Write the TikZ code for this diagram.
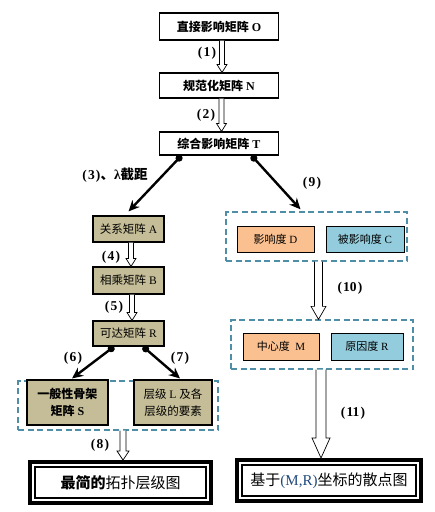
\documentclass[tikz,border=0pt]{standalone}
\usepackage{fontspec}
\setmainfont{Liberation Serif}
\newfontfamily\zh{Noto Sans CJK SC}
\usetikzlibrary{arrows.meta,positioning,calc}

\definecolor{tan}{HTML}{C4BD97}
\definecolor{peach}{HTML}{FAC090}
\definecolor{sky}{HTML}{93CDDD}
\definecolor{dashblue}{HTML}{4E8FA7}
\definecolor{mrblue}{HTML}{1F497D}

\newcommand{\stepno}[1]{(\kern1.2pt#1\kern1.2pt)}

\begin{document}
\begin{tikzpicture}[x=1pt,y=-1pt,on grid,
  box/.style={draw,line width=1.1pt,inner sep=0pt,align=center},
  mat/.style={box,font=\bfseries\fontsize{12}{14}\selectfont,minimum width=119pt,minimum height=25pt},
  tanbox/.style={box,fill=tan,font=\fontsize{11.5}{13}\selectfont,minimum width=71pt,minimum height=26pt},
  colbox/.style={box,line width=1pt,font=\fontsize{11}{13}\selectfont,minimum width=77pt,minimum height=26pt},
  grp/.style={draw=dashblue,line width=1.3pt,dash pattern=on 6pt off 3.5pt,minimum height=49pt},
  final/.style={draw,line width=4pt,inner sep=0pt,font=\fontsize{15}{18}\selectfont,
    path picture={\draw[line width=1.3pt] ([xshift=5pt,yshift=-5pt]path picture bounding box.north west)
      rectangle ([xshift=-5pt,yshift=5pt]path picture bounding box.south east);}},
  hollow/.style n args={3}{draw,fill=white,line width=0.7pt,
    to path={let \p1=(\tikztostart), \p2=(\tikztotarget) in
      (\x1-#1,\y1) -- (\x1-#1,\y2+#3) -- (\x1-#2,\y2+#3) -- (\x1,\y2)
      -- (\x1+#2,\y2+#3) -- (\x1+#1,\y2+#3) -- (\x1+#1,\y1)}},
  pull/.style={line width=2.4pt,{Circle[length=7pt]}-{Stealth[length=11pt,width=10pt]}},
  lab/.style={font=\bfseries\fontsize{13.5}{15}\selectfont}]
  \useasboundingbox (0,0) rectangle (435,512);

  % left column
  \node[mat,minimum height=27pt] (O)              at (219,26.5) {{\zh 直接影响矩阵} O};
  \node[mat]                     (N) [below=59pt of O]          {{\zh 规范化矩阵} N};
  \node[mat,minimum height=23pt] (T) [below=58pt of N]          {{\zh 综合影响矩阵} T};

  \node[tanbox]                  (A)              at (128.5,229) {{\zh 关系矩阵} A};
  \node[tanbox,minimum height=27pt] (B) [below=51.5pt of A]      {{\zh 相乘矩阵} B};
  \node[tanbox,minimum height=25pt] (R) [below=53pt of B]        {{\zh 可达矩阵} R};

  \node[grp,minimum width=200pt] (G1)             at (118,405.5) {};
  \node[tanbox,minimum width=81pt,minimum height=45pt,font=\bfseries\fontsize{12}{17}\selectfont]
                                 (S)              at (67.5,402.5) {{\zh 一般性骨架}\\{\zh 矩阵} S};
  \node[tanbox,minimum width=78pt,minimum height=45pt,font=\fontsize{11.5}{17}\selectfont]
                                 (L) [right=105.5pt of S]        {{\zh 层级} L {\zh 及各}\\{\zh 层级的要素}};

  \node[final,minimum width=181pt,minimum height=41pt]
                                 (Top)            at (120.5,482.5) {{\zh\bfseries 最简的}{\zh 拓扑层级图}};

  % right column
  \node[grp,minimum width=181pt] (G2)             at (316.5,236.5) {};
  \node[colbox,fill=peach]       (D)              at (275.5,239) {{\zh 影响度} D};
  \node[colbox,fill=sky,minimum width=78pt] (C) [right=89.5pt of D] {{\zh 被影响度} C};

  \node[grp,minimum width=182pt] (G3)             at (322,344.5) {};
  \node[colbox,fill=peach,minimum width=76pt,minimum height=27pt] (M) at (281,346.5) {{\zh 中心度}\ \ M};
  \node[colbox,fill=sky,minimum width=72pt,minimum height=27pt] (RR) [right=86pt of M] {{\zh 原因度} R};

  \node[final,minimum width=184pt,minimum height=41pt]
                                 (Scat)           at (329,480.5) {{\zh 基于}\textcolor{mrblue}{(M,R)}{\zh 坐标的散点图}};

  % connectors
  \draw[hollow={2.5pt}{5pt}{8pt}] ([xshift=3pt]O.south) to ([xshift=3pt]N.north);
  \draw[hollow={2.5pt}{5pt}{8pt}] ([xshift=2.5pt]N.south) to ([xshift=2.5pt]T.north);
  \draw[hollow={2.5pt}{5pt}{8pt}] ([xshift=2.5pt]A.south) to ([xshift=2.5pt]B.north);
  \draw[hollow={2.5pt}{5pt}{8pt}] ([xshift=3.5pt]B.south) to ([xshift=3.5pt]R.north);
  \draw[hollow={3pt}{6pt}{9pt}] ([xshift=5pt]G1.south) to ([xshift=2.5pt]Top.north);
  \draw[hollow={4pt}{7.5pt}{13pt}] ([xshift=2pt]G2.south) to ([xshift=-3.5pt]G3.north);
  \draw[hollow={5pt}{9pt}{20pt}] ([xshift=-1pt]G3.south) to ([xshift=-8pt]Scat.north);

  \draw[pull] ([xshift=-37.5pt]T.south) -- ([yshift=4pt]A.north);
  \draw[pull] ([xshift=32.5pt]T.south)  -- ([xshift=-16pt,yshift=2pt]G2.north);
  \draw[pull] ([xshift=-14.5pt]R.south) -- ([xshift=4.5pt,yshift=1pt]S.north);
  \draw[pull] ([xshift=14.5pt]R.south)  -- ([xshift=7pt,yshift=1pt]L.north);

  % step labels
  \node[lab] (l1)  at (207,53)  {\stepno{1}};
  \node[lab] (l2)  at (206,115) {\stepno{2}};
  \node[lab] (l3)  at (115,175) {\stepno{3}{\zh 、}λ{\zh 截距}};
  \node[lab] (l4)  at (111,257) {\stepno{4}};
  \node[lab] (l5)  at (114,307) {\stepno{5}};
  \node[lab] (l6)  at (73,358)  {\stepno{6}};
  \node[lab] (l7)  at (180,358) {\stepno{7}};
  \node[lab] (l8)  at (100,445) {\stepno{8}};
  \node[lab] (l9)  at (312,183) {\stepno{9}};
  \node[lab] (l10) at (350,288) {\stepno{10}};
  \node[lab] (l11) at (353,413) {\stepno{11}};
\end{tikzpicture}
\end{document}
